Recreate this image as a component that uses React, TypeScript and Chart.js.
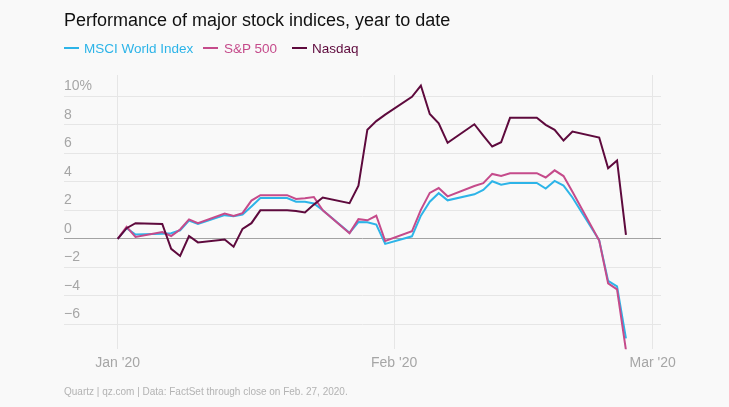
import React, { useEffect, useRef } from "react";
import { Chart, registerables } from "chart.js";

Chart.register(...registerables);

// Day offsets from Jan 1, 2020 (weekdays, holidays carried forward)
const days = [0, 1, 2, 5, 6, 7, 8, 9, 12, 13, 14, 15, 16, 19, 20, 21, 22, 23, 26, 27, 28, 29, 30, 33, 34, 35, 36, 37, 40, 41, 42, 43, 44, 47, 48, 49, 50, 51, 54, 55, 56, 57];

const msci = [0, 0.75, 0.3, 0.36, 0.4, 0.6, 1.28, 1.05, 1.66, 1.58, 1.7, 2.27, 2.86, 2.86, 2.6, 2.6, 2.48, 2.0, 0.42, 1.18, 1.17, 1.0, -0.35, 0.18, 1.63, 2.6, 3.2, 2.7, 3.12, 3.43, 4.04, 3.8, 3.92, 3.92, 3.52, 4.06, 3.73, 2.9, -0.1, -2.95, -3.33, -6.97];

const sp500 = [0, 0.84, 0.13, 0.48, 0.2, 0.66, 1.36, 1.1, 1.77, 1.6, 1.8, 2.68, 3.06, 3.06, 2.8, 2.84, 2.93, 2.0, 0.4, 1.38, 1.3, 1.62, -0.15, 0.53, 2.03, 3.22, 3.56, 2.98, 3.7, 3.9, 4.55, 4.4, 4.6, 4.6, 4.3, 4.8, 4.4, 3.3, -0.12, -3.12, -3.54, -7.8];

const nasdaq = [0, 0.75, 1.1, 1.05, -0.7, -1.2, 0.2, -0.25, -0.05, -0.55, 0.7, 1.1, 2.0, 2.0, 1.95, 1.85, 2.4, 2.9, 2.5, 3.72, 7.65, 8.25, 8.7, 9.95, 10.74, 8.75, 8.1, 6.73, 8.03, 7.24, 6.47, 6.77, 8.48, 8.48, 7.99, 7.64, 6.89, 7.52, 7.1, 4.95, 5.49, 0.28];

const seriesNames = ["MSCI World Index", "S&P 500", "Nasdaq"];
const seriesColors = ["#2db4e8", "#c54b8b", "#5e0a3d"];

const xTickDays = [0, 31, 60];
const xTickLabels = ["Jan '20", "Feb '20", "Mar '20"];
const yTicks = [-6, -4, -2, 0, 2, 4, 6, 8, 10];

const FONT = "'Liberation Sans', Arial, Helvetica, sans-serif";

function yLabel(v: number): string {
  if (v === 10) return "10%";
  if (v < 0) return "\u2212" + Math.abs(v);
  return String(v);
}

export default function App() {
  const ref = useRef<HTMLCanvasElement | null>(null);

  useEffect(() => {
    if (!ref.current) return;
    const toPts = (vals: number[]) => days.map((d, i) => ({ x: d, y: vals[i] }));
    const seriesVals = [msci, sp500, nasdaq];
    const orders = [2, 1, 0];
    const chart = new Chart(ref.current, {
      type: "line",
      data: {
        datasets: seriesVals.map((vals, i) => ({
          label: seriesNames[i],
          data: toPts(vals),
          borderColor: seriesColors[i],
          backgroundColor: seriesColors[i],
          borderWidth: 2,
          pointRadius: 0,
          tension: 0,
          fill: false,
          order: orders[i],
        })),
      },
      options: {
        animation: false,
        responsive: false,
        devicePixelRatio: 1,
        layout: { padding: { left: 64, right: 68, top: 75, bottom: 29 } },
        plugins: {
          legend: { display: false },
          tooltip: { enabled: false },
          title: { display: false },
        },
        scales: {
          x: {
            type: "linear",
            min: -6.02,
            max: 60.93,
            afterBuildTicks: (axis: any) => {
              axis.ticks = xTickDays.map((v) => ({ value: v }));
            },
            border: { display: false },
            grid: { color: "#e6e6e6", lineWidth: 1, drawTicks: false },
            ticks: {
              autoSkip: false,
              maxRotation: 0,
              padding: 6,
              color: "#a6a6a6",
              font: { family: FONT, size: 14, lineHeight: 1.2 },
              callback: (v: any) => {
                const idx = xTickDays.indexOf(Number(v));
                return idx >= 0 ? xTickLabels[idx] : "";
              },
            },
          },
          y: {
            type: "linear",
            min: -7.73,
            max: 11.48,
            afterBuildTicks: (axis: any) => {
              axis.ticks = yTicks.map((v) => ({ value: v }));
            },
            border: { display: false },
            grid: {
              drawTicks: false,
              lineWidth: 1,
              color: (ctx: any) => (ctx.tick && ctx.tick.value === 0 ? "#a3a3a3" : "#e6e6e6"),
            },
            ticks: {
              mirror: true,
              padding: 0,
              labelOffset: -10,
              color: "#a6a6a6",
              font: { family: FONT, size: 14 },
              callback: (v: any) => yLabel(Number(v)),
            },
          },
        },
      },
    });
    return () => chart.destroy();
  }, []);

  const legendItems = [
    { marker: 64, text: 84 },
    { marker: 203, text: 224 },
    { marker: 292, text: 312 },
  ];

  return (
    <div
      style={{
        position: "fixed",
        left: 0,
        top: 0,
        width: 729,
        height: 407,
        background: "#f9f9f9",
        overflow: "hidden",
        fontFamily: FONT,
      }}
    >
      <canvas ref={ref} width={729} height={407} style={{ position: "absolute", left: 0, top: 0, width: 729, height: 407 }} />
      <div
        style={{
          position: "absolute",
          left: 64,
          top: 10.8,
          fontSize: 18,
          lineHeight: "18px",
          color: "#111",
          whiteSpace: "nowrap",
        }}
      >
        Performance of major stock indices, year to date
      </div>
      {seriesNames.map((name, i) => (
        <React.Fragment key={name}>
          <div
            style={{
              position: "absolute",
              left: legendItems[i].marker,
              top: 46.7,
              width: 15,
              height: 2,
              background: seriesColors[i],
            }}
          />
          <div
            style={{
              position: "absolute",
              left: legendItems[i].text,
              top: 41.9,
              fontSize: 13.5,
              lineHeight: "13.5px",
              color: seriesColors[i],
              whiteSpace: "nowrap",
            }}
          >
            {name}
          </div>
        </React.Fragment>
      ))}
      <div
        style={{
          position: "absolute",
          left: 64,
          top: 386.5,
          fontSize: 10,
          lineHeight: "10px",
          color: "#b3b3b3",
          whiteSpace: "nowrap",
        }}
      >
        Quartz | qz.com | Data: FactSet through close on Feb. 27, 2020.
      </div>
    </div>
  );
}
